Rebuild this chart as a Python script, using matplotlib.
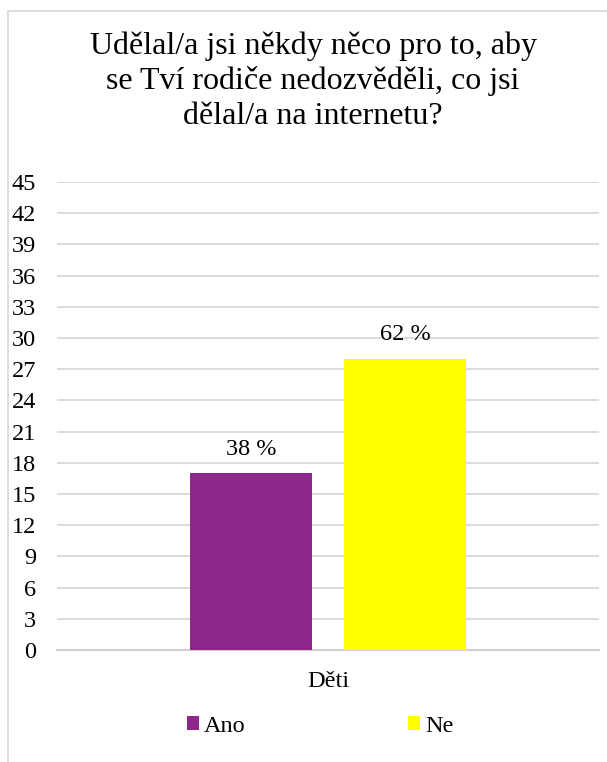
import matplotlib
matplotlib.use("Agg")
import matplotlib.pyplot as plt
from matplotlib.patches import Rectangle, Patch

plt.rcParams['font.family'] = ['Liberation Serif', 'DejaVu Serif']

title = "Udělal/a jsi někdy něco pro to, aby\nse Tví rodiče nedozvěděli, co jsi\ndělal/a na internetu?"
category = "Děti"
series_names = ["Ano", "Ne"]
series_values = [17, 28]
series_labels = ["38 %", "62 %"]
series_colors = ["#8E278B", "#FFFF00"]
y_ticks = list(range(0, 46, 3))

W, H = 607, 762
fig = plt.figure(figsize=(W / 100, H / 100), dpi=100)
fig.patch.set_facecolor("white")

# chart frame (left and top edges visible)
fig.patches.append(Rectangle((8 / W, -0.1), 1.2, (1 - 11 / H) + 0.1,
                             transform=fig.transFigure, fill=False,
                             edgecolor="#d9d9d9", linewidth=1.3, zorder=0))

ax = fig.add_axes([57 / W, 1 - 650 / H, (599 - 57) / W, (650 - 182) / H])
ax.set_facecolor("none")

bar_w = 122 / 542  # in axis units (x spans 0..1)
x_center = 0.5
gap = 32 / 542
offsets = [-(gap / 2 + bar_w / 2), gap / 2 + bar_w / 2]

FS = 17.5
for off, v, lab, c, name in zip(offsets, series_values, series_labels, series_colors, series_names):
    ax.bar(x_center + off, v, width=bar_w, color=c, label=name, zorder=3)
    ax.text(x_center + off, v + 1.3, lab, ha="center", va="bottom",
            fontsize=FS, color="#000000")

ax.set_xlim(0, 1)
ax.set_ylim(0, 45)
ax.set_yticks(y_ticks)
ax.set_yticklabels([str(t) for t in y_ticks], fontsize=FS, color="#000000")
ax.yaxis.grid(True, color="#d9d9d9", linewidth=1.3, zorder=0)
ax.set_axisbelow(True)
ax.tick_params(axis="y", length=0, pad=15)
ax.set_xticks([x_center])
ax.set_xticklabels([category], fontsize=FS, color="#000000")
ax.tick_params(axis="x", length=0, pad=15)
for s in ["left", "right", "top"]:
    ax.spines[s].set_visible(False)
ax.spines["bottom"].set_color("#d0d0d0")
ax.spines["bottom"].set_linewidth(1.5)

fig.text(313 / W, 1 - 81 / H, title, ha="center", va="center",
         fontsize=23, linespacing=1.25, color="#000000")

handles = [Patch(facecolor=c, label=n) for c, n in zip(series_colors, series_names)]
fig.legend(handles=handles, loc="center", bbox_to_anchor=(320 / W, 1 - 726 / H),
           ncol=2, frameon=False, fontsize=FS, handlelength=0.5,
           handleheight=0.5, handletextpad=0.2, columnspacing=6.7)

fig.savefig("out.png", dpi=100, facecolor="white")
